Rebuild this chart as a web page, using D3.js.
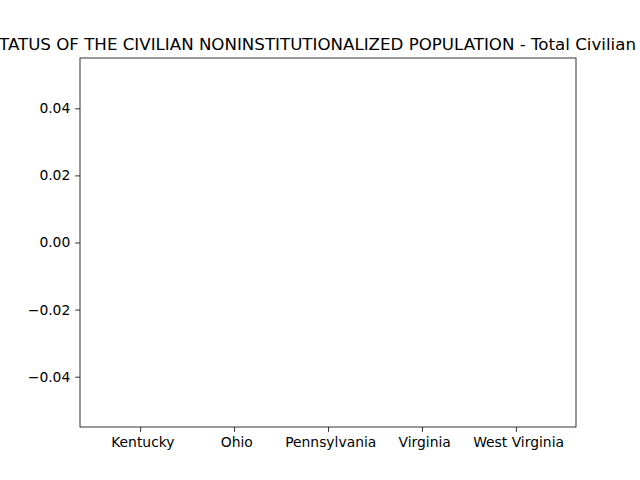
<!DOCTYPE html>
<html>
<meta charset='utf-8'>
<head>
<script src='https://d3js.org/d3.v7.min.js'></script>
<style>
body { margin: 0; background: #fff; }
text { font-family: 'DejaVu Sans', sans-serif; }
</style>
</head>
<body>
<div id='chart'></div>
<script>
// categories and values (the source chart has no plotted values)
var states = [' Kentucky', ' Ohio', ' Pennsylvania', ' Virginia', ' West Virginia']
var values = [null, null, null, null, null]
var yTicks = [-0.04, -0.02, 0.00, 0.02, 0.04]
var title = 'DISABILITY STATUS OF THE CIVILIAN NONINSTITUTIONALIZED POPULATION - Total Civilian Noninstitutionalized Population'

var width = 640, height = 480
var margin = {top: 58, right: 64, bottom: 53, left: 80}
var w = width - margin.left - margin.right,
    h = height - margin.top - margin.bottom

var svg = d3.select('#chart')
  .append('svg')
    .attr('width', width)
    .attr('height', height)

var g = svg.append('g')
    .attr('transform', 'translate(' + margin.left + ',' + margin.top + ')')

var x = d3.scaleLinear()
  .domain([-0.64, states.length - 1 + 0.64])
  .range([0, w])
var y = d3.scaleLinear()
  .domain([-0.055, 0.055])
  .range([h, 0])

// bars (none drawn when values are missing)
g.selectAll('rect.bar')
  .data(values.map(function(v, i) { return {i: i, v: v} }).filter(function(d) { return d.v != null }))
  .enter()
  .append('rect')
    .attr('class', 'bar')
    .attr('x', function(d) { return x(d.i - 0.4) })
    .attr('width', function(d) { return x(0.8) - x(0) })
    .attr('y', function(d) { return y(Math.max(0, d.v)) })
    .attr('height', function(d) { return Math.abs(y(d.v) - y(0)) })
    .attr('fill', '#1f77b4')

var fmt = function(d) { return d3.format('.2f')(d).replace('-', '\u2212') }

var xAxis = g.append('g')
  .attr('transform', 'translate(0,' + h + ')')
  .call(d3.axisBottom(x).tickValues(d3.range(states.length))
    .tickFormat(function(i) { return states[i] }).tickSize(4.86).tickPadding(4.86))
var yAxis = g.append('g')
  .call(d3.axisLeft(y).tickValues(yTicks).tickFormat(fmt).tickSize(4.86).tickPadding(4.86))

;[xAxis, yAxis].forEach(function(a) {
  a.select('.domain').remove()
  a.selectAll('line').attr('stroke', '#000').attr('stroke-width', 0.8)
  a.selectAll('text').attr('fill', '#000').style('font-size', '13.89px')
    .style('font-family', "'DejaVu Sans', sans-serif").style('white-space', 'pre')
})

g.append('rect')
  .attr('width', w)
  .attr('height', h)
  .attr('fill', 'none')
  .attr('stroke', '#000')
  .attr('stroke-width', 0.8)

// title runs past both edges of the figure, as in the original
var t = svg.append('text')
  .attr('y', margin.top - 8)
  .attr('text-anchor', 'start')
  .style('font-size', '16.67px')
  .text(title)
var upTo = title.indexOf('Total Civilian') + 'Total Civilian'.length
var lead = t.node().getSubStringLength(0, upTo)
t.attr('x', 636 - lead)
</script>
</body>
</html>
